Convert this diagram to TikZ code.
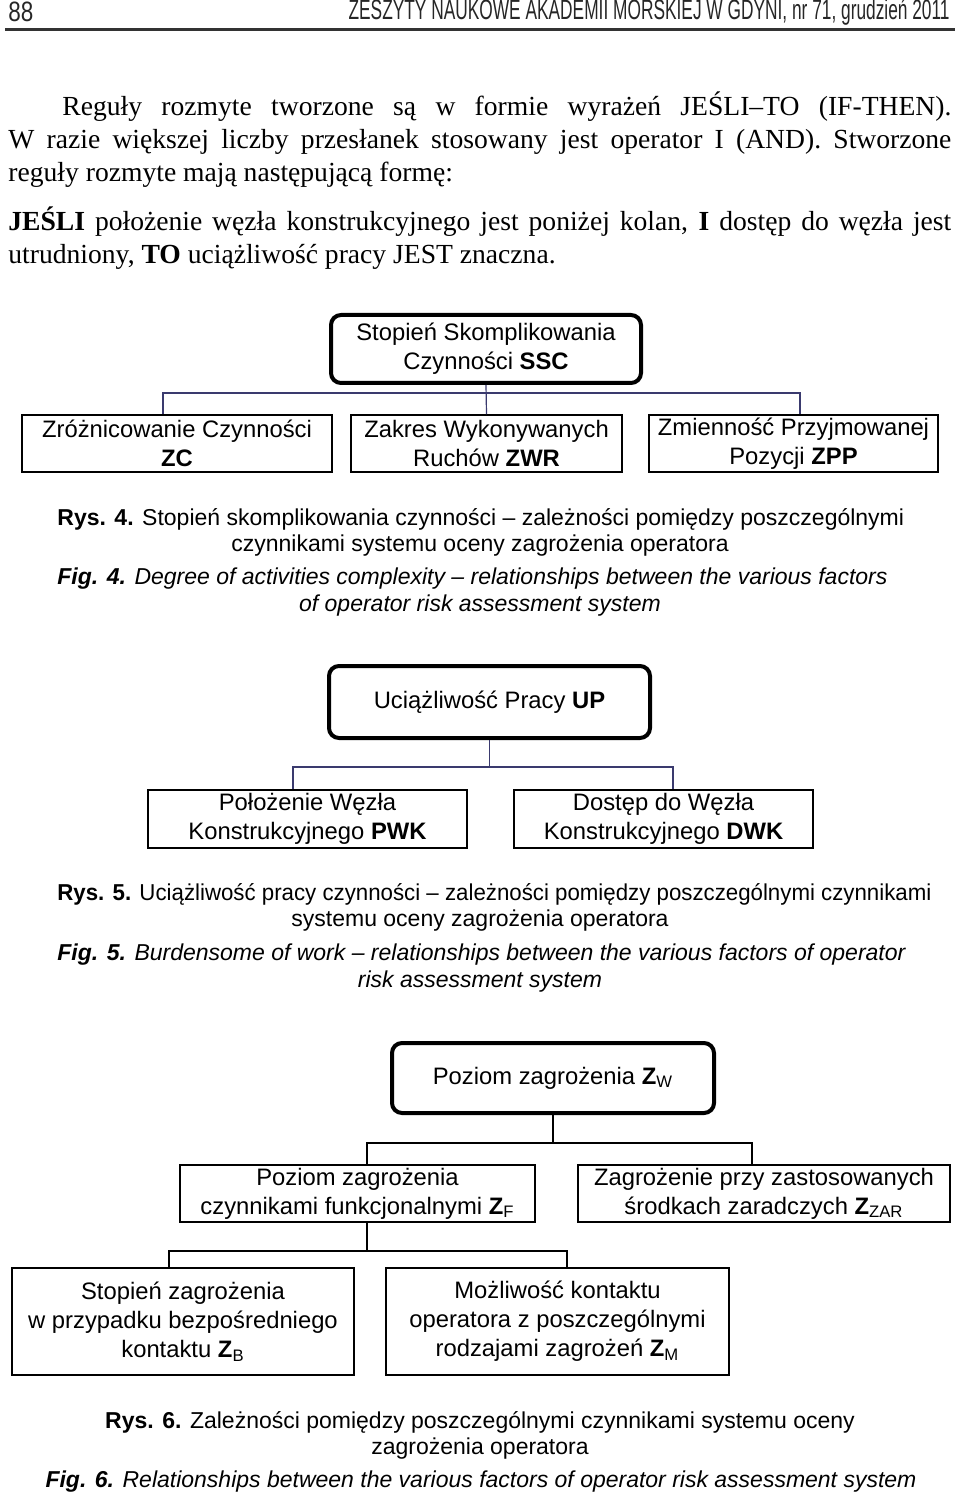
\documentclass[tikz,border=0pt]{standalone}
\usepackage{fontspec}
\usepackage{graphicx}
\setmainfont{Liberation Serif}
\setsansfont{Liberation Sans}
\usetikzlibrary{calc}
\definecolor{navy}{HTML}{3A3A6E}
\begin{document}
\begin{tikzpicture}[x=0.5pt,y=-0.5pt,
  boxtext/.style={font=\sffamily\fontsize{11.9}{14.5}\selectfont, align=center, inner sep=0pt, draw},
  rootbox/.style={boxtext, line width=2pt, rounded corners=5pt},
  leafbox/.style={boxtext, line width=0.75pt},
  heavybox/.style={boxtext, line width=1.3pt},
  link/.style={line width=0.6pt, draw=navy},
  linkk/.style={line width=0.6pt, draw=black},
  capfont/.style={font=\sffamily\fontsize{11.5}{13.5}\selectfont, inner sep=0pt},
  headfont/.style={font=\sffamily\fontsize{14}{14}\selectfont, inner sep=0pt, text=black!85},
]
\useasboundingbox (0,0) rectangle (960,1497);
% header
\node[headfont, anchor=west] (pg) at (8,12) {\resizebox{12.5pt}{\height}{88}};
\node[headfont, anchor=east] (jt) at (950,12) {\resizebox{300.5pt}{\height}{ZESZYTY NAUKOWE AKADEMII MORSKIEJ W GDYNI, nr 71, grudzień 2011}};
\draw[line width=1.5pt, draw=black!80] (5,30) -- (955,30);
% body text
\node[anchor=north west, inner sep=0pt, text width=471.5pt, align=justify, font=\fontsize{13.8}{16.5}\selectfont] (body) at (8,91)
{\hspace*{27pt}Reguły rozmyte tworzone są w formie wyrażeń JEŚLI–TO (IF-THEN).\linebreak
W razie większej liczby przesłanek stosowany jest operator I (AND). Stworzone\linebreak
reguły rozmyte mają następującą formę:\par\vspace{8pt}\noindent
\textbf{JEŚLI} położenie węzła konstrukcyjnego jest poniżej kolan, \textbf{I} dostęp do węzła jest\linebreak
utrudniony, \textbf{TO} uciążliwość pracy JEST znaczna.};
% Fig 4
\node[rootbox, minimum width=155pt, minimum height=34pt] (ssc) at (486,349) {Stopień Skomplikowania\\Czynności \textbf{SSC}};
\node[leafbox, minimum width=155pt, minimum height=28.5pt] (zc) at (177,443.5) {Zróżnicowanie Czynności\\\textbf{ZC}};
\node[leafbox, minimum width=135.5pt, minimum height=28.5pt] (zwr) at (486.5,443.5) {Zakres Wykonywanych\\Ruchów \textbf{ZWR}};
\node[leafbox, minimum width=144.5pt, minimum height=28.5pt] (zpp) at (793.5,443.5) {Zmienność Przyjmowanej\\Pozycji \textbf{ZPP}};
\coordinate (j4) at (486,393);
\draw[link] (ssc.south) -- (zwr.north);
\draw[link] ([xshift=-7pt]zc.north) |- (j4) -| ([xshift=3.25pt]zpp.north);
\node[capfont, anchor=west] (r4a) at (57,519) {\textbf{Rys. 4.} Stopień skomplikowania czynności – zależności pomiędzy poszczególnymi};
\node[capfont] (r4b) at (480,546) {czynnikami systemu oceny zagrożenia operatora};
\node[capfont, anchor=west] (f4a) at (57,579) {\textit{\textbf{Fig. 4.} Degree of activities complexity – relationships between the various factors}};
\node[capfont] (f4b) at (480,606) {\textit{of operator risk assessment system}};
% Fig 5
\node[rootbox, minimum width=160.5pt, minimum height=36pt] (up) at (489.5,702) {Uciążliwość Pracy \textbf{UP}};
\node[leafbox, minimum width=159.5pt, minimum height=29pt] (pwk) at (307.5,819) {Położenie Węzła\\Konstrukcyjnego \textbf{PWK}};
\node[leafbox, minimum width=149.5pt, minimum height=29pt] (dwk) at (663.5,819) {Dostęp do Węzła\\Konstrukcyjnego \textbf{DWK}};
\coordinate (j5) at (489.5,767);
\draw[link] (up.south) -- (j5);
\draw[link] ([xshift=-7.25pt]pwk.north) |- (j5) -| ([xshift=4.75pt]dwk.north);
\node[capfont, anchor=west] (r5a) at (57,894) {\resizebox{437pt}{\height}{\textbf{Rys. 5.} Uciążliwość pracy czynności – zależności pomiędzy poszczególnymi czynnikami}};
\node[capfont] (r5b) at (480,921) {systemu oceny zagrożenia operatora};
\node[capfont, anchor=west] (f5a) at (57,955) {\textit{\textbf{Fig. 5.} Burdensome of work – relationships between the various factors of operator}};
\node[capfont] (f5b) at (480,982) {\textit{risk assessment system}};
% Fig 6
\node[rootbox, minimum width=161pt, minimum height=35pt] (zw) at (553,1078) {Poziom zagrożenia \textbf{Z}\textsubscript{W}};
\node[leafbox, minimum width=177.5pt, minimum height=28.5pt] (zf) at (357.5,1193.5) {Poziom zagrożenia\\czynnikami funkcjonalnymi \textbf{Z}\textsubscript{F}};
\node[leafbox, minimum width=186pt, minimum height=28.5pt] (zzar) at (764,1193.5) {Zagrożenie przy zastosowanych\\środkach zaradczych \textbf{Z}\textsubscript{ZAR}};
\coordinate (j6) at (553,1143);
\draw[linkk] (zw.south) -- (j6);
\draw[linkk] ([xshift=4.75pt]zf.north) |- (j6) -| ([xshift=-6pt]zzar.north);
\node[heavybox, minimum width=171pt, minimum height=53.5pt] (zb) at (183,1321.5) {Stopień zagrożenia\\w przypadku bezpośredniego\\kontaktu \textbf{Z}\textsubscript{B}};
\node[heavybox, minimum width=171.5pt, minimum height=53.5pt] (zm) at (557.5,1321.5) {Możliwość kontaktu\\operatora z poszczególnymi\\rodzajami zagrożeń \textbf{Z}\textsubscript{M}};
\coordinate (j7) at (367,1251);
\draw[linkk] ([xshift=4.75pt]zf.south) -- (j7);
\draw[linkk] ([xshift=-7pt]zb.north) |- (j7) -| ([xshift=4.75pt]zm.north);
\node[capfont] (r6a) at (480,1422) {\textbf{Rys. 6.} Zależności pomiędzy poszczególnymi czynnikami systemu oceny};
\node[capfont] (r6b) at (480,1449) {zagrożenia operatora};
\node[capfont] (f6) at (481,1482) {\textit{\textbf{Fig. 6.} Relationships between the various factors of operator risk assessment system}};
\end{tikzpicture}
\end{document}
